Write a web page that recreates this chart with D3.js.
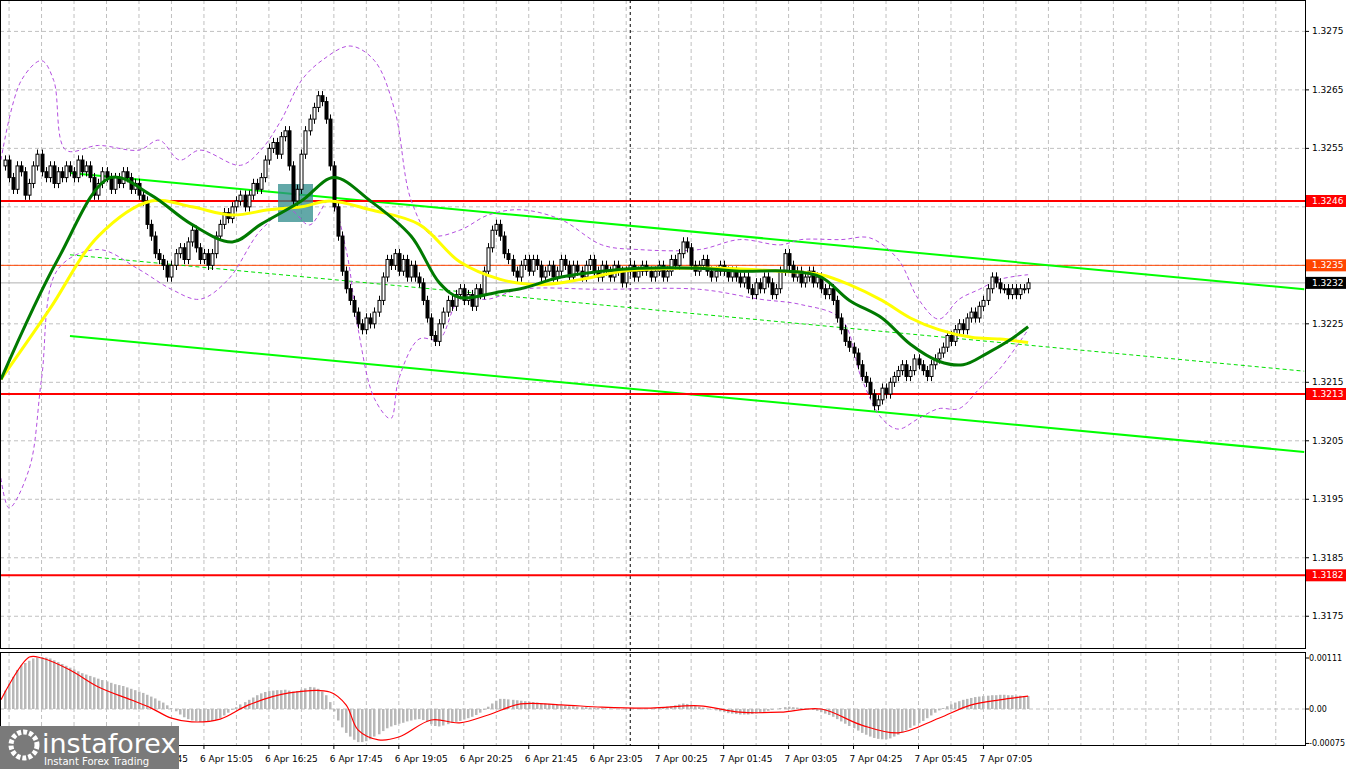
<!DOCTYPE html>
<html>
<head>
<script src="https://d3js.org/d3.v7.min.js"></script>
<style>
  body { margin: 0; background: #fff; }
  text { font-family: "DejaVu Sans", sans-serif; }
</style>
</head>
<body>
<svg id="chart" width="1347" height="769"></svg>
<script>
// closes in pips above 1.3200, one per 5-minute bar
const closes = [
  53,50,48,52,51,47,49,52,54,51, 50,52,49,51,50,52,51,50,53,51,
  52,50,47,49,51,50,48,50,49,51, 50,48,49,47,46,42,40,37,36,35,
  33,35,37,38,36,39,41,38,36,37, 35,37,40,42,44,43,45,46,47,45,
  47,49,48,50,53,55,56,54,57,58, 52,46,48,54,58,60,62,64,63,60,
  52,45,40,34,31,29,27,25,24,26, 25,27,29,33,36,35,37,34,36,33,
  35,33,32,29,26,23,22,25,27,29, 28,30,31,29,30,28,31,30,34,38,
  41,42,40,37,36,34,33,35,36,34, 36,35,33,34,35,33,34,36,35,33,
  35,34,33,35,36,34,33,35,34,33, 35,34,32,34,35,33,34,35,34,33,
  34,35,33,34,36,35,37,39,38,35, 34,35,36,34,33,34,35,34,33,34,
  33,32,33,31,30,32,31,33,32,30, 31,34,37,35,33,34,32,33,34,32,
  33,31,30,31,29,26,24,22,21,20, 18,16,15,13,11,12,14,13,15,16,
  17,18,16,17,19,18,17,16,18,19, 20,21,23,22,24,25,24,26,27,26,
  28,29,31,33,32,31,31,30,31,30, 31,31,32
];
const firstOpen = 52;

// moving averages and envelope, [bar, pips]
const fastMA = [[-1,15.5],[13,36],[26,50],[36,47],[46,42],[56,39],[63,42],[73,46],[81,50],[90,46],[100,40],[107,32],[112,29.5],[122,30.5],[127,31],[137,33],[147,34],[156,34.5],[171,34.5],[181,34],[193,34],[201,33],[208,29],[216,26],[223,21.5],[230,18.6],[236,18],[242,20],[247,22],[252,24.5]];
const slowMA = [[-1,15.5],[11,27.5],[23,40],[36,46],[46,45],[56,43.6],[65,44.5],[73,45],[80,46],[90,44.5],[102,42],[112,35.6],[122,32.6],[132,31.7],[142,32.6],[152,34],[166,34.5],[176,34.5],[191,34],[201,33.4],[208,31.7],[216,29],[223,26],[230,24],[238,22.7],[245,22.4],[252,21.8]];
const bandUp = [[-1,53],[4,66.6],[9,70],[12,66.6],[15,54.7],[23,55.5],[33,54.7],[38,56.4],[43,53],[48,54.7],[58,52.1],[63,54.7],[68,59.8],[73,66.6],[78,70],[85,72.5],[91,70],[96,61.5],[100,46.2],[105,40.2],[112,41],[119,43.6],[127,44.5],[137,42.8],[147,38.5],[156,37.7],[171,37.7],[181,39.4],[191,38.5],[196,39.4],[206,39.4],[213,39.7],[220,36],[225,29.2],[230,25.8],[235,29.2],[240,30.9],[245,32.6],[252,33.4]];
const bandLo = [[-1,-1.4],[1,-6.5],[6,0.3],[9,15.6],[13,34.3],[23,37.7],[33,34.3],[41,30.9],[48,29.2],[55,32.6],[63,41],[70,44.5],[75,41.9],[80,46.2],[84,37.7],[87,24],[91,12.2],[95,8.8],[97,15.6],[102,22.4],[107,22.4],[112,29.2],[119,29.2],[127,30.9],[147,30.9],[171,30.9],[186,29.2],[196,28.3],[206,25.8],[211,15.6],[216,8.8],[220,7],[225,8.8],[230,10.5],[235,10.5],[240,13.9],[245,17.3],[252,24]];

// trend channel, [bar, pips]
const chanTop = [[16,50.8],[320,30.9]];
const chanMid = [[16,36.8],[320,16.9]];
const chanBot = [[16,22.9],[320,3.1]];

const levels = [1.3246, 1.3213, 1.3182];
const resistLine = 1.3235;
const lastPrice = 1.3232;
const priceTicks = [1.3275,1.3265,1.3255,1.3245,1.3235,1.3225,1.3215,1.3205,1.3195,1.3185,1.3175];

// MACD histogram (1e-5 units) and signal line
const macdHist = [
  40,55,70,85,95,100,105,110,112,113, 112,110,106,102,98,94,90,86,82,78,
  75,72,69,66,63,60,57,54,52,50, 47,44,41,38,35,31,27,23,18,14,
  8,2,-5,-12,-18,-22,-25,-27,-28,-28, -27,-26,-24,-20,-14,-8,-2,4,10,15,
  20,25,30,34,37,39,40,41,41,42, 40,38,39,42,45,48,47,44,38,30,
  15,-5,-25,-40,-52,-60,-67,-72,-72,-70, -66,-60,-55,-48,-42,-38,-35,-32,-30,-27,
  -25,-23,-22,-24,-28,-33,-37,-38,-36,-33, -30,-28,-26,-23,-20,-17,-13,-8,-2,5,
  12,18,22,22,21,20,19,18,17,16, 15,14,13,12,11,10,9,8,7,6,
  6,5,4,4,3,3,2,2,1,1, 1,0,-1,-1,0,1,0,-1,0,1,
  2,3,4,5,6,8,10,12,11,9, 7,5,3,1,-1,-3,-5,-7,-9,-10,
  -11,-12,-12,-12,-11,-10,-8,-6,-4,-2, 0,2,4,5,4,3,2,1,0,-2,
  -4,-7,-10,-13,-17,-22,-27,-32,-37,-42, -47,-52,-56,-60,-63,-65,-66,-66,-64,-60,
  -56,-51,-46,-41,-36,-31,-26,-20,-14,-8, -3,2,6,10,14,17,20,22,24,26,
  27,28,29,30,30,31,31,30,30,29, 29,28,28
];
const macdSignal = [[-1,20],[6,113],[9,111],[16,85],[23,48],[31,20],[36,2],[41,-20],[46,-28],[53,-22],[60,9],[70,35],[80,37],[84,9],[87,-46],[92,-67],[97,-61],[105,-24],[112,-30],[119,-13],[127,11],[137,9],[147,4],[159,2],[171,7],[181,-7],[191,-7],[201,0],[211,-35],[220,-52],[230,-20],[238,9],[245,20],[252,28]];

const timeLabels = ["6 Apr 13:45","6 Apr 15:05","6 Apr 16:25","6 Apr 17:45","6 Apr 19:05","6 Apr 20:25","6 Apr 21:45","6 Apr 23:05","7 Apr 00:25","7 Apr 01:45","7 Apr 03:05","7 Apr 04:25","7 Apr 05:45","7 Apr 07:05"];
const labelBars = [33,49,65,81,97,113,129,145,161,177,193,209,225,241];

const svg = d3.select("#chart");
const W = 1305, mainTop = 0, mainBot = 648, mTop = 652, mBot = 745;

const x = d3.scaleLinear().domain([0, 1]).range([5, 9.06]);
const y = d3.scaleLinear().domain([1.3246, 1.3213]).range([201, 394]);
const yp = p => y(1.32 + p / 10000);
const ym = d3.scaleLinear().domain([0, 0.00111]).range([709, 658]);

// grid
const grid = svg.append("g").attr("stroke", "#c0c0c0").attr("stroke-dasharray", "4,3").attr("stroke-width", 1);
d3.range(1, 41).forEach(k => {
  const gx = x(k * 8 - 7);
  if (gx < W) {
    grid.append("line").attr("x1", gx).attr("x2", gx).attr("y1", mainTop).attr("y2", mainBot);
    grid.append("line").attr("x1", gx).attr("x2", gx).attr("y1", mTop).attr("y2", mBot);
  }
});
priceTicks.forEach(t => grid.append("line").attr("x1", 0).attr("x2", W).attr("y1", y(t)).attr("y2", y(t)));
grid.append("line").attr("x1", 0).attr("x2", W).attr("y1", ym(0)).attr("y2", ym(0));

// vertical separator
svg.append("line").attr("x1", x(154)).attr("x2", x(154)).attr("y1", 0).attr("y2", mBot)
  .attr("stroke", "#000").attr("stroke-dasharray", "3,3");

// horizontal levels
svg.append("line").attr("x1", 0).attr("x2", W).attr("y1", y(lastPrice)).attr("y2", y(lastPrice)).attr("stroke", "#b0b0b0");
svg.append("line").attr("x1", 0).attr("x2", W).attr("y1", y(resistLine)).attr("y2", y(resistLine)).attr("stroke", "#ff4500");

// channel
const line = d3.line().x(d => x(d[0])).y(d => yp(d[1]));
[chanTop, chanBot].forEach(c => svg.append("path").attr("d", line(c)).attr("stroke", "#00ff00").attr("stroke-width", 2).attr("fill", "none"));
svg.append("path").attr("d", line(chanMid)).attr("stroke", "#00e000").attr("stroke-dasharray", "4,3").attr("fill", "none");

levels.forEach(l => svg.append("line").attr("x1", 0).attr("x2", W).attr("y1", y(l)).attr("y2", y(l)).attr("stroke", "#ff0000").attr("stroke-width", 2));

// teal box
svg.append("rect").attr("x", 278).attr("y", 184).attr("width", 35).attr("height", 38).attr("fill", "#2e8b8b").attr("opacity", 0.75);

// bands
const curve = d3.line().x(d => x(d[0])).y(d => yp(d[1])).curve(d3.curveCatmullRom);
[bandUp, bandLo].forEach(b => svg.append("path").attr("d", curve(b)).attr("stroke", "#b44fe0").attr("stroke-dasharray", "4,3").attr("fill", "none"));

// candles
const candles = svg.append("g");
closes.forEach((c, i) => {
  const o = i === 0 ? firstOpen : closes[i - 1];
  const hi = Math.max(o, c) + 0.8, lo = Math.min(o, c) - 0.8;
  const cx = Math.round(x(i)) + 0.5;
  candles.append("line").attr("x1", cx).attr("x2", cx).attr("y1", yp(hi)).attr("y2", yp(lo)).attr("stroke", "#000");
  const top = yp(Math.max(o, c)), bot = yp(Math.min(o, c));
  candles.append("rect").attr("x", cx - 1.5).attr("y", top).attr("width", 3).attr("height", Math.max(1, bot - top))
    .attr("fill", c >= o ? "#fff" : "#000").attr("stroke", "#000").attr("stroke-width", 1);
});

// moving averages
svg.append("path").attr("d", curve(slowMA)).attr("stroke", "#ffff00").attr("stroke-width", 3).attr("fill", "none");
svg.append("path").attr("d", curve(fastMA)).attr("stroke", "#007a00").attr("stroke-width", 3).attr("fill", "none");

// MACD
svg.append("g").selectAll("rect").data(macdHist).join("rect")
  .attr("x", (d, i) => Math.round(x(i)) - 1).attr("width", 2.5)
  .attr("y", d => Math.min(ym(d / 1e5), ym(0))).attr("height", d => Math.abs(ym(d / 1e5) - ym(0)))
  .attr("fill", "#b8b8b8");
svg.append("path").attr("d", d3.line().x(d => x(d[0])).y(d => ym(d[1] / 1e5)).curve(d3.curveCatmullRom)(macdSignal))
  .attr("stroke", "#ff0000").attr("stroke-width", 1.2).attr("fill", "none");

// frames
svg.append("rect").attr("x", 0.5).attr("y", 0.5).attr("width", W).attr("height", mainBot).attr("fill", "none").attr("stroke", "#000");
svg.append("rect").attr("x", 0.5).attr("y", mTop + 0.5).attr("width", W).attr("height", mBot - mTop).attr("fill", "none").attr("stroke", "#000");
svg.append("rect").attr("x", W + 1).attr("y", 0).attr("width", 1347 - W).attr("height", 769).attr("fill", "#fff");

// price axis
const ax = svg.append("g").attr("font-size", 9);
priceTicks.forEach(t => {
  if (t === 1.3245) return; // hidden under the 1.3246 tag
  ax.append("line").attr("x1", W).attr("x2", W + 4).attr("y1", y(t)).attr("y2", y(t)).attr("stroke", "#000");
  ax.append("text").attr("x", W + 7).attr("y", y(t) + 3).text(t.toFixed(4));
});
function tag(v, col, txtCol) {
  ax.append("rect").attr("x", W + 1).attr("y", y(v) - 6).attr("width", 40).attr("height", 12).attr("fill", col);
  ax.append("text").attr("x", W + 7).attr("y", y(v) + 3).attr("fill", txtCol).text(v.toFixed(4));
}
levels.forEach(l => tag(l, "#ff0000", "#fff"));
tag(resistLine, "#ff4500", "#fff");
tag(lastPrice, "#000", "#fff");
[[0.00111, "0.00111"], [0, "0.00"], [-0.00075, "-0.00075"]].forEach(([v, s]) => {
  ax.append("line").attr("x1", W).attr("x2", W + 4).attr("y1", ym(v)).attr("y2", ym(v)).attr("stroke", "#000");
  ax.append("text").attr("x", W + 4).attr("y", ym(v) + 3).attr("font-size", 8).text(s);
});

// time axis
const tx = svg.append("g").attr("font-size", 9);
timeLabels.forEach((s, k) => {
  const px = x(labelBars[k]);
  tx.append("line").attr("x1", px).attr("x2", px).attr("y1", mBot).attr("y2", mBot + 4).attr("stroke", "#000");
  tx.append("text").attr("x", px - 4).attr("y", 762).text(s);
});

// logo
const logo = svg.append("g");
logo.append("rect").attr("x", 0).attr("y", 726).attr("width", 179).attr("height", 43).attr("fill", "#7a7a7a");
logo.append("circle").attr("cx", 24).attr("cy", 745).attr("r", 13).attr("fill", "none").attr("stroke", "#fff").attr("stroke-width", 5).attr("stroke-dasharray", "4,2");
logo.append("text").attr("x", 42).attr("y", 753).attr("fill", "#fff").attr("font-size", 27).text("instaforex");
logo.append("text").attr("x", 44).attr("y", 765).attr("fill", "#fff").attr("font-size", 10).text("Instant Forex Trading");
</script>
</body>
</html>
